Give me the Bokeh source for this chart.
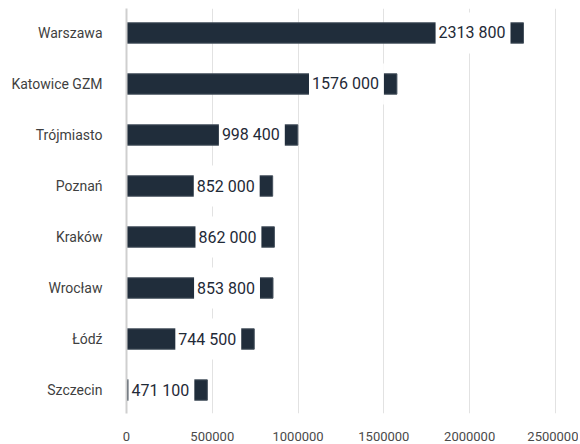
from bokeh.plotting import figure
from bokeh.models import ColumnDataSource, Range1d, FixedTicker, BasicTickFormatter
from bokeh.core.properties import value
from bokeh.embed import file_html
from bokeh.resources import INLINE

cities = ["Warszawa", "Katowice GZM", "Trójmiasto", "Poznań", "Kraków", "Wrocław", "Łódź", "Szczecin"]
values = [2313800, 1576000, 998400, 852000, 862000, 853800, 744500, 471100]
x_ticks = [0, 500000, 1000000, 1500000, 2000000, 2500000]

n = len(cities)
ypos = [n - 1 - i for i in range(n)]
labels = [f"{v // 1000} {v % 1000:03d}" for v in values]

src = ColumnDataSource(dict(y=ypos, v=values, lab=labels, city=cities))

FONT = "Roboto, sans-serif"

p = figure(width=578, height=444, output_backend="svg", toolbar_location=None,
           x_range=Range1d(0, 2512000), y_range=Range1d(-0.46, n - 1 + 0.48),
           min_border_left=126, min_border_right=21, min_border_top=8, min_border_bottom=31)
p.outline_line_color = None
p.background_fill_color = "white"

p.hbar(y="y", right="v", left=0, height=0.4, source=src,
       fill_color="#202d3b", line_color="#46525e", line_width=1)

p.text(x="v", y="y", text="lab", source=src, x_offset=-13,
       text_align="right", text_baseline="middle",
       text_font=value(FONT), text_font_size="16px",
       text_color="#1f2a37",
       background_fill_color="white",
       padding=dict(left=3, right=5, top=11, bottom=11))

# x axis
xa = p.xaxis[0]
xa.ticker = FixedTicker(ticks=x_ticks)
xa.formatter = BasicTickFormatter(use_scientific=False)
xa.axis_line_color = None
xa.major_tick_line_color = None
xa.minor_tick_line_color = None
xa.major_label_standoff = 12
xa.major_label_text_font = FONT
xa.major_label_text_font_size = "13px"
xa.major_label_text_color = "#4a4a4a"

# y axis
ya = p.yaxis[0]
ya.ticker = FixedTicker(ticks=ypos)
ya.major_label_overrides = {yv: c for yv, c in zip(ypos, cities)}
ya.axis_line_color = "#cfcfcf"
ya.axis_line_width = 2
ya.major_tick_line_color = None
ya.minor_tick_line_color = None
ya.major_label_standoff = 18
ya.major_label_text_font = FONT
ya.major_label_text_font_size = "14px"
ya.major_label_text_color = "#3f3f3f"

p.ygrid.grid_line_color = None
p.xgrid.ticker = FixedTicker(ticks=x_ticks)
p.xgrid.grid_line_color = "#e2e2e2"
p.xgrid.grid_line_width = 1

open("out.html", "w").write(file_html(p, INLINE))
